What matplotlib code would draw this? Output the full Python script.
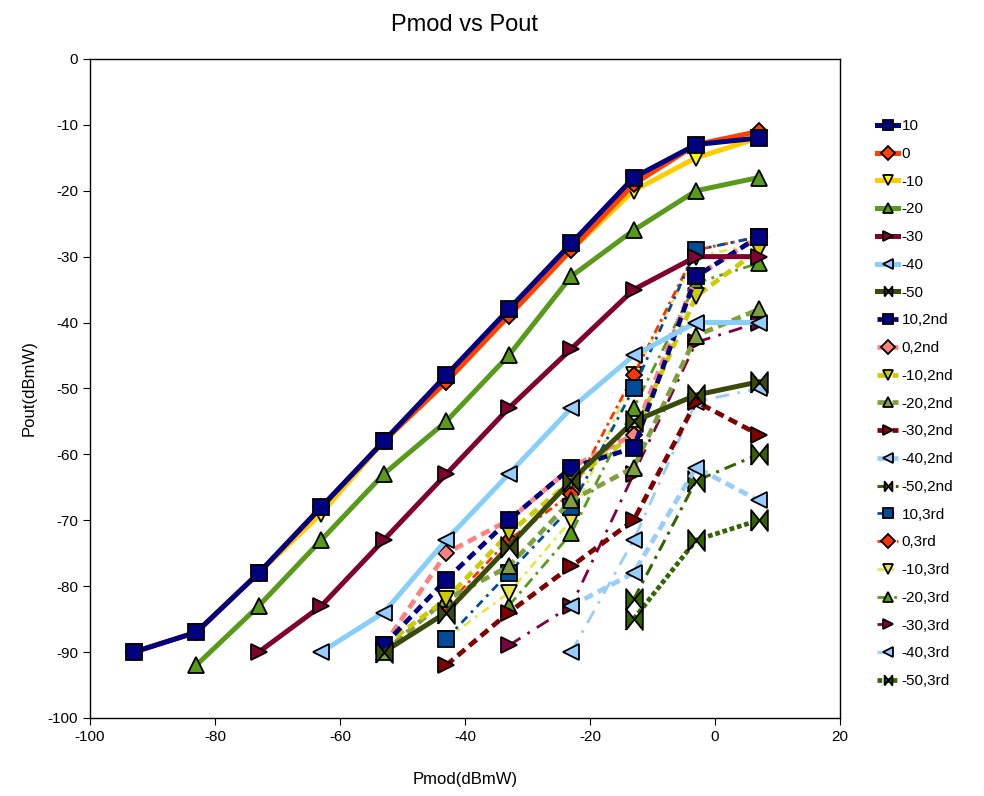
import numpy as np
import matplotlib.pyplot as plt

plt.rcParams['font.family'] = ['Liberation Sans', 'DejaVu Sans']
plt.rcParams['axes.unicode_minus'] = False

# Pmod sweep points (dBmW)
pmod = [-93, -83, -73, -63, -53, -43, -33, -23, -13, -3, 7]

# fundamental output, one list per modulation level
p_10 = [-90, -87, -78, -68, -58, -48, -38, -28, -18, -13, -12]
p_0 = [-90, -87, -78, -68, -58, -49, -39, -29, -19, -13, -11]
p_m10 = [-90, -87, -78, -69, -58, -49, -39, -29, -20, -15, -12]
p_m20 = [-92, -83, -73, -63, -55, -45, -33, -26, -20, -18]
p_m30 = [-90, -83, -73, -63, -53, -44, -35, -30, -30]
p_m40 = [-90, -84, -73, -63, -53, -45, -40, -40]
p_m50 = [-90, -84, -74, -64, -55, -51, -49]

# 2nd harmonic
h2_10 = [-89, -79, -70, -62, -59, -33, -27]
h2_0 = [-89, -75, -70, -62, -57, -33, -27]
h2_m10 = [-89, -82, -72, -64, -57, -36, -29]
h2_m20 = [-90, -82, -77, -67, -62, -42, -38]
h2_m30 = [-92, -84, -77, -70, -52, -57]
h2_m40 = [-83, -78, -62, -67]
h2_m50 = [-82, -64, -60]

# 3rd harmonic
h3_10 = [-88, -78, -68, -50, -29, -27]
h3_0 = [-83, -73, -66, -48, -29, -27]
h3_m10 = [-88, -81, -70, -48, -30, -28]
h3_m20 = [-83, -72, -53, -34, -31]
h3_m30 = [-89, -83, -63, -43, -40]
h3_m40 = [-90, -73, -52, -50]
h3_m50 = [-85, -73, -70]

bowtie = [(-0.8, -1), (-0.8, 1), (0.8, -1), (0.8, 1), (-0.8, -1)]

fig = plt.figure(figsize=(9.84, 7.96), dpi=100)
ax = fig.add_axes([0.0915, 0.098, 0.762, 0.828])

# (label, values, line colour, marker colour, marker, linestyle, width)
series = [
    ('10', p_10, '#000080', '#000080', 's', '-', 3.6),
    ('0', p_0, '#FF4000', '#FF4000', 'D', '-', 3.6),
    ('-10', p_m10, '#FFCC00', '#FFFF00', 'v', '-', 3.6),
    ('-20', p_m20, '#5A9A1A', '#5A9A1A', '^', '-', 3.6),
    ('-30', p_m30, '#800030', '#800030', '>', '-', 3.6),
    ('-40', p_m40, '#87CEFA', '#99CCFF', '<', '-', 3.6),
    ('-50', p_m50, '#3A4A0A', '#3A4A0A', bowtie, '-', 3.6),
    ('10,2nd', h2_10, '#000080', '#000080', 's', (0, (2.0, 1.2)), 3.4),
    ('0,2nd', h2_0, '#FF8080', '#FF8080', 'D', (0, (2.0, 1.2)), 3.4),
    ('-10,2nd', h2_m10, '#CCCC00', '#CCCC00', 'v', (0, (2.0, 1.2)), 3.4),
    ('-20,2nd', h2_m20, '#80A040', '#80A040', '^', (0, (2.0, 1.2)), 3.4),
    ('-30,2nd', h2_m30, '#800000', '#800000', '>', (0, (2.0, 1.2)), 3.4),
    ('-40,2nd', h2_m40, '#99CCFF', '#99CCFF', '<', (0, (2.0, 1.2)), 3.4),
    ('-50,2nd', h2_m50, '#336600', '#336600', bowtie, (0, (4, 2, 1, 2)), 2.2),
    ('10,3rd', h3_10, '#004C99', '#004C99', 's', (0, (3, 2, 1, 2)), 2.0),
    ('0,3rd', h3_0, '#FF3300', '#FF3300', 'D', (0, (3, 1.5, 1, 1.5)), 2.0),
    ('-10,3rd', h3_m10, '#E6E64C', '#E6E64C', 'v', (0, (3, 2, 1, 2)), 2.0),
    ('-20,3rd', h3_m20, '#5A9A1A', '#5A9A1A', '^', (0, (4, 2, 1, 2)), 2.0),
    ('-30,3rd', h3_m30, '#800040', '#800040', '>', (0, (5, 3, 1, 3)), 2.0),
    ('-40,3rd', h3_m40, '#99CCFF', '#99CCFF', '<', (0, (5, 3, 1, 3)), 2.0),
    ('-50,3rd', h3_m50, '#336600', '#336600', bowtie, (0, (1, 0.6)), 3.4),
]

handles = []
for i, (lab, vals, lc, mc, mk, ls, lw) in enumerate(series):
    xs = pmod[len(pmod) - len(vals):]
    if i < 7:
        z = 4 - i * 0.05
    else:
        z = 3 - i * 0.01
    ms = 11
    if mk == 'D':
        ms = 8
    elif mk is bowtie:
        ms = 15
    h, = ax.plot(xs, vals, color=lc, linestyle=ls, linewidth=lw,
                 marker=mk, markersize=ms, markerfacecolor=mc,
                 markeredgecolor='black', markeredgewidth=1.3,
                 label=lab, zorder=z)
    handles.append(h)

ax.set_xlim(-100, 20)
ax.set_ylim(-100, 0)
ax.set_xticks(np.arange(-100, 21, 20))
ax.set_yticks(np.arange(-100, 1, 10))
ax.tick_params(labelsize=11, length=5)
for s in ax.spines.values():
    s.set_linewidth(1.0)

ax.set_title('Pmod vs Pout', fontsize=17, pad=20)
ax.set_xlabel('Pmod(dBmW)', fontsize=12, labelpad=20)
ax.set_ylabel('Pout(dBmW)', fontsize=12, labelpad=8)

leg = fig.legend(handles=handles, loc='upper left', bbox_to_anchor=(0.885, 0.858),
                 frameon=False, fontsize=11, handlelength=1.4, handletextpad=0.2,
                 labelspacing=0.9, borderaxespad=0)
for lh in leg.legend_handles:
    lh.set_markersize(7)

fig.savefig('out.png', dpi=100)
